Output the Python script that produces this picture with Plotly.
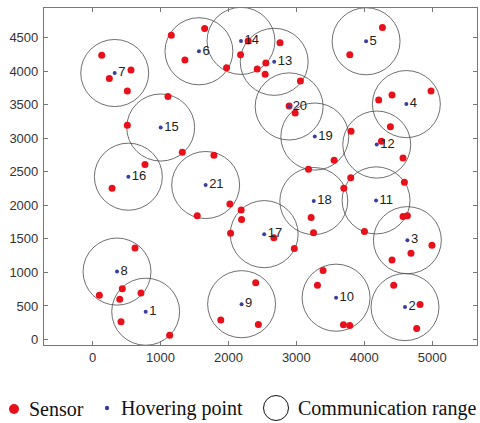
import plotly.graph_objects as go

# Hovering points (labelled 1..21)
hover_ids = list(range(1, 22))
hover_x = [782, 4600, 4635, 4620, 4027, 1566, 326, 360, 2194, 3585, 4174,
           4184, 2674, 2185, 1003, 527, 2527, 3257, 3272, 2894, 1665]
hover_y = [414, 483, 1480, 3508, 4444, 4295, 3971, 1012, 526, 623, 2073,
           2905, 4138, 4450, 3159, 2426, 1570, 2063, 3024, 3473, 2302]

# Sensors
sensor_x = [135, 247, 566, 512, 1159, 1650, 1360, 1973, 1110, 512, 1321, 1787, 772, 287,
            2291, 2179, 2760, 2424, 2551, 2541, 3060, 2894, 2983, 3556, 3179,
            4268, 3787, 4213, 4409, 4983, 4385, 4253, 3806, 4571,
            3801, 3699, 4591, 3218, 3253, 4571, 4635, 4003,
            4997, 4688, 4409, 2669, 2970, 2188, 2194, 2032, 2022, 1541,
            625, 100, 400, 438, 713, 419, 1135, 1888, 2402, 2441,
            3394, 3311, 3694, 3787, 4434, 4821, 4772]
sensor_y = [4235, 3891, 4016, 3702, 4534, 4634, 4166, 4048, 3622, 3194, 2791, 2746, 2606, 2253,
            4450, 4245, 4422, 4031, 4121, 3954, 3854, 3478, 3374, 2671, 2536,
            4649, 4245, 3568, 3642, 3702, 3169, 2955, 3105, 2706,
            2410, 2253, 2342, 1819, 1589, 1834, 1843, 1610,
            1405, 1286, 1185, 1517, 1356, 1928, 1789, 1585, 2018, 1843,
            1365, 658, 598, 758, 692, 265, 64, 289, 847, 222,
            1029, 807, 219, 209, 807, 523, 164]

comm_radius = 500
x_ticks = [0, 1000, 2000, 3000, 4000, 5000]
y_ticks = [0, 500, 1000, 1500, 2000, 2500, 3000, 3500, 4000, 4500]
legend_labels = ["Sensor", "Hovering point", "Communication range"]

RED = "#e8101a"
BLUE = "#3a3f9e"
CIRCLE = "#4a4a4a"

fig = go.Figure()

shapes = []
for cx, cy in zip(hover_x, hover_y):
    shapes.append(dict(type="circle", xref="x", yref="y",
                       x0=cx - comm_radius, x1=cx + comm_radius,
                       y0=cy - comm_radius, y1=cy + comm_radius,
                       line=dict(color=CIRCLE, width=0.8), layer="below"))

fig.add_trace(go.Scatter(x=sensor_x, y=sensor_y, mode="markers",
                         marker=dict(color=RED, size=7, line=dict(width=0)),
                         name="Sensor", showlegend=False))
fig.add_trace(go.Scatter(x=hover_x, y=hover_y, mode="markers+text",
                         text=[str(i) for i in hover_ids], textposition="middle right",
                         textfont=dict(family="Liberation Sans, Arial", size=13, color="#222"),
                         marker=dict(color=BLUE, size=4, line=dict(width=0)),
                         name="Hovering point", showlegend=False))

# Plot area geometry in pixels
L, R, T, B = 44, 3, 8, 78
W, H = 480 - L - R, 423 - T - B

def px2paper(px, py):
    return (px - L) / W, (423 - B - py) / H

# Manual legend
ly = 409
annotations = []
# red dot
xp, yp = px2paper(14, ly)
shapes.append(dict(type="circle", xref="paper", yref="paper", xsizemode="pixel", ysizemode="pixel",
                   xanchor=xp, yanchor=yp, x0=-5, x1=5, y0=-5, y1=5,
                   fillcolor=RED, line=dict(width=0)))
# blue dot
xp, yp = px2paper(107, ly - 1)
shapes.append(dict(type="circle", xref="paper", yref="paper", xsizemode="pixel", ysizemode="pixel",
                   xanchor=xp, yanchor=yp, x0=-2.2, x1=2.2, y0=-2.2, y1=2.2,
                   fillcolor=BLUE, line=dict(width=0)))
# open circle
xp, yp = px2paper(276, ly - 1)
shapes.append(dict(type="circle", xref="paper", yref="paper", xsizemode="pixel", ysizemode="pixel",
                   xanchor=xp, yanchor=yp, x0=-12.5, x1=12.5, y0=-12.5, y1=12.5,
                   line=dict(color="#111", width=1)))
for lab, tx in zip(legend_labels, [27, 119, 296]):
    xp, yp = px2paper(tx, ly)
    annotations.append(dict(text=lab, x=xp, y=yp, xref="paper", yref="paper",
                            xanchor="left", yanchor="middle", showarrow=False,
                            font=dict(family="Liberation Serif, Times New Roman", size=20, color="#111")))

axis_common = dict(showgrid=False, zeroline=False, showline=True, linecolor="#777", linewidth=1.2,
                   mirror="allticks", ticks="inside", ticklen=4, tickcolor="#777",
                   tickfont=dict(family="Liberation Sans, Arial", size=13, color="#333"))

fig.update_layout(
    width=480, height=423,
    margin=dict(l=L, r=R, t=T, b=B),
    plot_bgcolor="white", paper_bgcolor="white",
    xaxis=dict(range=[-715, 5660], tickvals=x_ticks, **axis_common),
    yaxis=dict(range=[-82, 4940], tickvals=y_ticks, ticklabelstandoff=2, **axis_common),
    shapes=shapes, annotations=annotations, showlegend=False,
)

fig.write_html("out.html")
